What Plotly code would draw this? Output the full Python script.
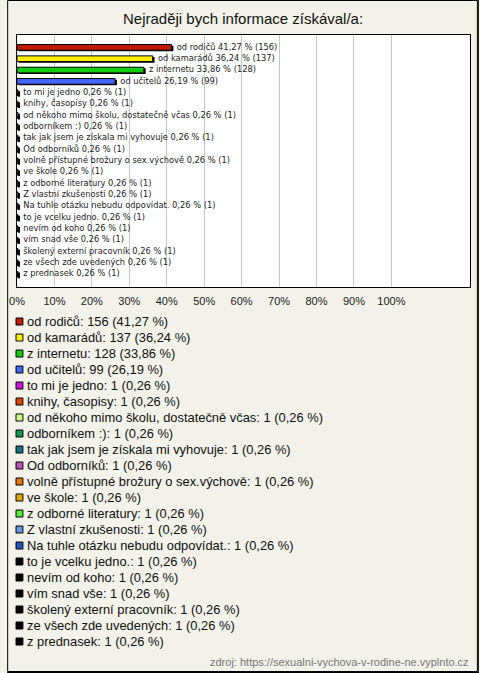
import plotly.graph_objects as go

categories = [
    "od rodičů", "od kamarádů", "z internetu", "od učitelů", "to mi je jedno",
    "knihy, časopisy", "od někoho mimo školu, dostatečně včas", "odborníkem :)",
    "tak jak jsem je získala mi vyhovuje", "Od odborníků",
    "volně přístupné brožury o sex.výchově", "ve škole", "z odborné literatury",
    "Z vlastní zkušenosti", "Na tuhle otázku nebudu odpovídat.", "to je vcelku jedno.",
    "nevím od koho", "vím snad vše", "školený externí pracovník",
    "ze všech zde uvedených", "z prednasek",
]
counts = [156, 137, 128, 99] + [1] * 17
percents = [41.27, 36.24, 33.86, 26.19] + [0.26] * 17
colors = [
    "#c11c00", "#ffee00", "#11cc11", "#4466ff", "#cc11dd", "#dd4400", "#ccff88",
    "#119955", "#117788", "#bb55bb", "#ee7700", "#ddaa00", "#55ee33", "#6699dd",
    "#2255bb", "#000000", "#000000", "#000000", "#000000", "#000000", "#000000",
]
tick_vals = [0, 10, 20, 30, 40, 50, 60, 70, 80, 90, 100]
tick_text = [f"{v}%" for v in tick_vals]
title_text = "Nejraději bych informace získával/a:"
source_text = "zdroj: https://sexualni-vychova-v-rodine-ne.vyplnto.cz"

W, H = 480, 673
L, R, T, B = 10, 9, 35, 386
PW, PH = W - L - R, H - T - B


def fx(px):
    return (px - L) / PW


def fy(py):
    return (H - B - py) / PH


def fmt(p):
    return f"{p:.2f}".replace(".", ",")


fig = go.Figure()
# shadow
fig.add_trace(go.Bar(
    y=categories, x=percents, base=0.5, orientation="h", width=0.5, offset=-0.17,
    marker=dict(color="#000000", line=dict(width=0)), hoverinfo="skip", showlegend=False,
))
fig.add_trace(go.Bar(
    y=categories, x=percents, orientation="h", width=0.5, offset=-0.27,
    marker=dict(color=colors, line=dict(color="#000000", width=1)),
    showlegend=False,
))
fig.add_trace(go.Scatter(
    y=categories, x=percents, mode="text",
    text=[f"\u00a0\u00a0{c} {fmt(p)} % ({n})" for c, p, n in zip(categories, percents, counts)],
    textposition="middle right",
    textfont=dict(family="DejaVu Sans", size=8.3, color="#222222"),
    showlegend=False, hoverinfo="skip",
))

annotations = [dict(
    text=title_text, xref="paper", yref="paper", x=fx(240), y=fy(18),
    showarrow=False, xanchor="center", yanchor="middle",
    font=dict(family="Liberation Sans, Arial", size=15, color="#111111"),
)]
shapes = []
for i, (c, n, p, col) in enumerate(zip(categories, counts, percents, colors)):
    yc = 321.5 + i * 16.0
    annotations.append(dict(
        text=f"{c}: {n} ({fmt(p)} %)", xref="paper", yref="paper",
        x=fx(18), y=fy(yc), showarrow=False, xanchor="left", yanchor="middle",
        font=dict(family="Liberation Sans, Arial", size=12.9, color="#111111"),
    ))
    shapes.append(dict(
        type="rect", xref="paper", yref="paper",
        x0=fx(9), x1=fx(16), y0=fy(yc - 3.5), y1=fy(yc + 3.5),
        fillcolor=col, line=dict(color="#000000", width=1),
    ))
annotations.append(dict(
    text=source_text, xref="paper", yref="paper", x=fx(472), y=fy(662),
    showarrow=False, xanchor="right", yanchor="middle",
    font=dict(family="Liberation Sans, Arial", size=11, color="#777777"),
))
shapes.append(dict(type="rect", xref="paper", yref="paper",
                   x0=fx(0.5), x1=fx(478.5), y0=fy(0.5), y1=fy(671.5),
                   line=dict(color="#000000", width=1)))
shapes.append(dict(type="line", xref="paper", yref="paper",
                   x0=fx(479.5), x1=fx(479.5), y0=fy(0), y1=fy(673),
                   line=dict(color="#000000", width=1)))
shapes.append(dict(type="line", xref="paper", yref="paper",
                   x0=fx(0), x1=fx(480), y0=fy(672.5), y1=fy(672.5),
                   line=dict(color="#000000", width=1)))

fig.update_layout(
    width=W, height=H, margin=dict(l=L, r=R, t=T, b=B, pad=0),
    paper_bgcolor="#f2f1ea", plot_bgcolor="#ffffff",
    barmode="overlay", showlegend=False,
    annotations=annotations, shapes=shapes,
    xaxis=dict(
        range=[0, PW / 3.81], tickvals=tick_vals, ticktext=tick_text,
        showgrid=True, gridcolor="#c8c8c8", gridwidth=1, zeroline=False,
        showline=True, linecolor="#000000", linewidth=1, mirror=True,
        ticks="", ticklabelstandoff=4,
        tickfont=dict(family="Liberation Sans, Arial", size=11, color="#222222"),
        fixedrange=True,
    ),
    yaxis=dict(
        categoryorder="array", categoryarray=categories, autorange="reversed",
        showticklabels=False, showgrid=False, zeroline=False,
        showline=True, linecolor="#000000", linewidth=1, mirror=True,
        ticks="", fixedrange=True,
    ),
)

fig.write_html(
    "out.html",
    config={"displayModeBar": False},
    post_script="document.body.style.margin='0';document.body.style.overflow='hidden';",
)
